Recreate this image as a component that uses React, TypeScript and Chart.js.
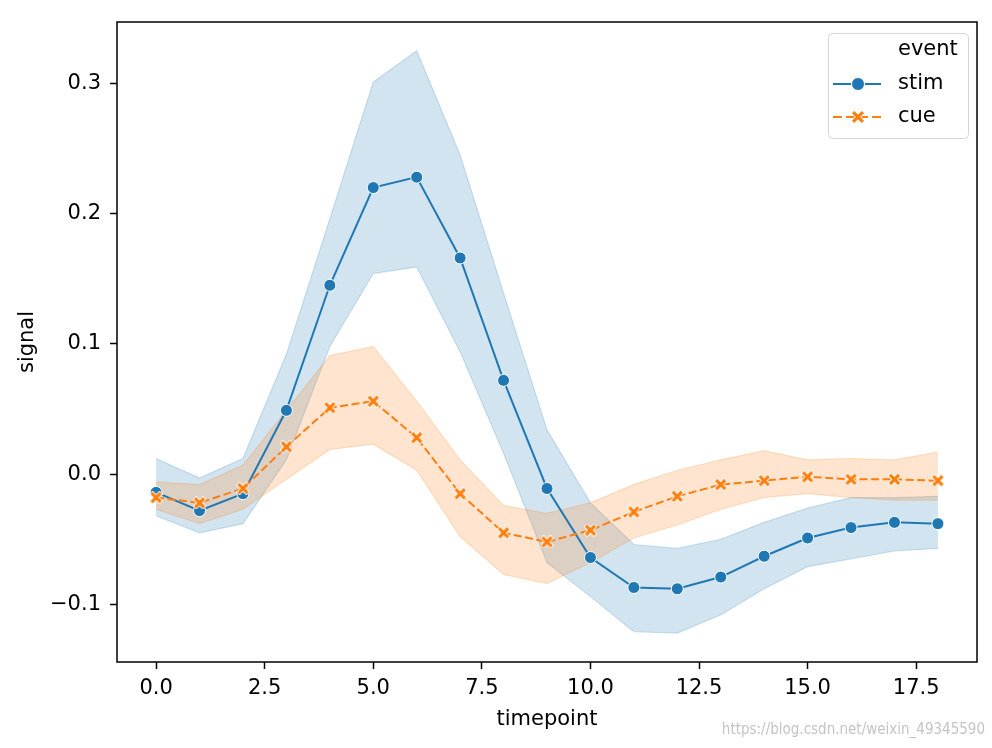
import React, { useEffect, useRef } from 'react';
import { Chart, registerables } from 'chart.js';

Chart.register(...registerables);

// ---------- data ----------
const timepoints = [0, 1, 2, 3, 4, 5, 6, 7, 8, 9, 10, 11, 12, 13, 14, 15, 16, 17, 18];

const stimMean = [-0.014, -0.028, -0.015, 0.049, 0.145, 0.220, 0.228, 0.166, 0.072, -0.011, -0.064, -0.087, -0.088, -0.079, -0.063, -0.049, -0.041, -0.037, -0.038];
const stimUpper = [0.012, -0.003, 0.012, 0.092, 0.196, 0.301, 0.325, 0.245, 0.139, 0.034, -0.022, -0.054, -0.057, -0.050, -0.037, -0.026, -0.018, -0.018, -0.017];
const stimLower = [-0.032, -0.045, -0.038, 0.011, 0.098, 0.154, 0.159, 0.094, 0.016, -0.068, -0.094, -0.121, -0.122, -0.108, -0.088, -0.071, -0.065, -0.059, -0.057];

const cueMean = [-0.018, -0.022, -0.011, 0.021, 0.051, 0.056, 0.028, -0.015, -0.045, -0.052, -0.043, -0.029, -0.017, -0.008, -0.005, -0.002, -0.004, -0.004, -0.005];
const cueUpper = [-0.006, -0.008, 0.007, 0.049, 0.091, 0.098, 0.056, 0.011, -0.024, -0.030, -0.022, -0.008, 0.003, 0.011, 0.018, 0.011, 0.012, 0.011, 0.017];
const cueLower = [-0.027, -0.038, -0.027, -0.004, 0.019, 0.023, 0.003, -0.048, -0.077, -0.084, -0.068, -0.049, -0.039, -0.027, -0.018, -0.015, -0.018, -0.020, -0.020];

const xTickValues = [0, 2.5, 5, 7.5, 10, 12.5, 15, 17.5];
const yTickValues = [-0.1, 0, 0.1, 0.2, 0.3];

const seriesNames = ['stim', 'cue'];
const legendTitle = 'event';
const xTitle = 'timepoint';
const yTitle = 'signal';
const watermark = 'https://blog.csdn.net/weixin_49345590';

// ---------- styles ----------
const BLUE = '#1f77b4';
const ORANGE = '#ff7f0e';
const BLUE_BAND = 'rgba(31,119,180,0.2)';
const ORANGE_BAND = 'rgba(255,127,14,0.2)';
const FONT = "'DejaVu Sans', sans-serif";

const toPts = (ys: number[]) => timepoints.map((x, i) => ({ x, y: ys[i] }));

function makeXMarker(size: number, r: number): HTMLCanvasElement {
  const c = document.createElement('canvas');
  c.width = size;
  c.height = size;
  const g = c.getContext('2d')!;
  const m = size / 2;
  const lines = () => {
    g.beginPath();
    g.moveTo(m - r, m - r);
    g.lineTo(m + r, m + r);
    g.moveTo(m + r, m - r);
    g.lineTo(m - r, m + r);
    g.stroke();
  };
  g.lineCap = 'square';
  g.strokeStyle = '#ffffff';
  g.lineWidth = 5;
  lines();
  g.strokeStyle = ORANGE;
  g.lineWidth = 3.2;
  lines();
  return c;
}

const fmtY = (v: number) => (v < 0 ? '\u2212' : '') + Math.abs(v).toFixed(1);

export default function App() {
  const ref = useRef<HTMLCanvasElement | null>(null);

  useEffect(() => {
    if (!ref.current) return;
    const xMarker = makeXMarker(13, 3.4);
    const xMarkerLegend = makeXMarker(14, 3.8);

    const overlay = {
      id: 'overlay',
      afterDraw(chart: any) {
        const { ctx, chartArea: a } = chart;
        ctx.save();
        // spines
        ctx.strokeStyle = '#000';
        ctx.lineWidth = 1.5;
        ctx.strokeRect(a.left, a.top, a.right - a.left, a.bottom - a.top);

        // legend
        const bx = a.right - 149;
        const by = a.top + 11;
        const bw = 140;
        const bh = 105;
        ctx.beginPath();
        (ctx as any).roundRect(bx + 0.5, by + 0.5, bw, bh, 4);
        ctx.fillStyle = 'rgba(255,255,255,0.8)';
        ctx.fill();
        ctx.strokeStyle = '#d6d6d6';
        ctx.lineWidth = 1;
        ctx.stroke();

        ctx.font = `21px ${FONT}`;
        ctx.fillStyle = '#000';
        ctx.textAlign = 'left';
        ctx.textBaseline = 'middle';
        const tx = bx + 70;
        ctx.fillText(legendTitle, tx, by + 17);
        ctx.fillText(seriesNames[0], tx, by + 51);
        ctx.fillText(seriesNames[1], tx, by + 84);

        // stim handle
        const hx0 = bx + 5;
        const hx1 = bx + 53;
        const hm = bx + 30;
        let hy = by + 51;
        ctx.strokeStyle = BLUE;
        ctx.lineWidth = 2;
        ctx.beginPath();
        ctx.moveTo(hx0, hy);
        ctx.lineTo(hx1, hy);
        ctx.stroke();
        ctx.beginPath();
        ctx.arc(hm, hy, 6.5, 0, Math.PI * 2);
        ctx.fillStyle = BLUE;
        ctx.fill();
        ctx.strokeStyle = '#fff';
        ctx.lineWidth = 1;
        ctx.stroke();

        // cue handle
        hy = by + 84;
        ctx.strokeStyle = ORANGE;
        ctx.lineWidth = 2;
        ctx.setLineDash([9, 4]);
        ctx.beginPath();
        ctx.moveTo(hx0, hy);
        ctx.lineTo(hx1, hy);
        ctx.stroke();
        ctx.setLineDash([]);
        ctx.drawImage(xMarkerLegend, hm - xMarkerLegend.width / 2, hy - xMarkerLegend.height / 2);

        // watermark
        ctx.font = `15px 'Liberation Sans Narrow', 'DejaVu Sans Condensed', sans-serif`;
        ctx.fillStyle = 'rgba(190,190,190,0.9)';
        ctx.textAlign = 'right';
        ctx.textBaseline = 'middle';
        ctx.fillText(watermark, 985, 730);
        ctx.restore();
      },
    };

    const bandCommon = {
      pointRadius: 0,
      pointHoverRadius: 0,
      borderWidth: 1.2,
      tension: 0,
    };

    const chart = new Chart(ref.current, {
      type: 'line',
      data: {
        datasets: [
          { ...bandCommon, label: 'stim upper', data: toPts(stimUpper), borderColor: BLUE_BAND, backgroundColor: BLUE_BAND, fill: false, order: 5 },
          { ...bandCommon, label: 'stim lower', data: toPts(stimLower), borderColor: BLUE_BAND, backgroundColor: BLUE_BAND, fill: '-1', order: 4 },
          { ...bandCommon, label: 'cue upper', data: toPts(cueUpper), borderColor: ORANGE_BAND, backgroundColor: ORANGE_BAND, fill: false, order: 3 },
          { ...bandCommon, label: 'cue lower', data: toPts(cueLower), borderColor: ORANGE_BAND, backgroundColor: ORANGE_BAND, fill: '-1', order: 2 },
          {
            label: seriesNames[0],
            data: toPts(stimMean),
            borderColor: BLUE,
            backgroundColor: BLUE,
            borderWidth: 2,
            pointRadius: 6,
            pointBorderColor: '#fff',
            pointBorderWidth: 1,
            pointBackgroundColor: BLUE,
            fill: false,
            order: 1,
          },
          {
            label: seriesNames[1],
            data: toPts(cueMean),
            borderColor: ORANGE,
            backgroundColor: ORANGE,
            borderWidth: 2,
            borderDash: [8, 3.5],
            pointStyle: xMarker as any,
            pointRadius: 6,
            fill: false,
            order: 0,
          },
        ],
      },
      options: {
        animation: false,
        responsive: false,
        events: [],
        layout: { padding: { top: 22, right: 15, left: 0, bottom: 0 } },
        plugins: {
          legend: { display: false },
          tooltip: { enabled: false },
        },
        scales: {
          x: {
            type: 'linear',
            min: -0.9,
            max: 18.9,
            afterBuildTicks: (s: any) => {
              s.ticks = xTickValues.map((v) => ({ value: v }));
            },
            afterFit: (s: any) => {
              s.height = 86;
            },
            ticks: {
              font: { family: FONT, size: 21 },
              color: '#000',
              padding: 7,
              maxRotation: 0,
              autoSkip: false,
              callback: (v: any) => Number(v).toFixed(1),
            },
            grid: { display: true, drawOnChartArea: false, drawTicks: true, tickLength: 7, tickWidth: 1.5, tickColor: '#000' },
            border: { display: false },
            title: {
              display: true,
              text: xTitle,
              color: '#000',
              font: { family: FONT, size: 21 },
              padding: { top: 0, bottom: 16 },
            },
          },
          y: {
            type: 'linear',
            min: -0.1442,
            max: 0.3471,
            afterBuildTicks: (s: any) => {
              s.ticks = yTickValues.map((v) => ({ value: v }));
            },
            afterFit: (s: any) => {
              s.width = 117;
            },
            ticks: {
              font: { family: FONT, size: 21 },
              color: '#000',
              padding: 9,
              autoSkip: false,
              callback: (v: any) => fmtY(Number(v)),
            },
            grid: { display: true, drawOnChartArea: false, drawTicks: true, tickLength: 7, tickWidth: 1.5, tickColor: '#000' },
            border: { display: false },
            title: {
              display: true,
              text: yTitle,
              color: '#000',
              font: { family: FONT, size: 21 },
              padding: { top: 15, bottom: 0 },
            },
          },
        },
      },
      plugins: [overlay],
    } as any);

    return () => chart.destroy();
  }, []);

  return (
    <div style={{ position: 'fixed', left: 0, top: 0, width: 992, height: 748, background: '#fff' }}>
      <canvas ref={ref} width={992} height={748} style={{ display: 'block', width: 992, height: 748 }} />
    </div>
  );
}
